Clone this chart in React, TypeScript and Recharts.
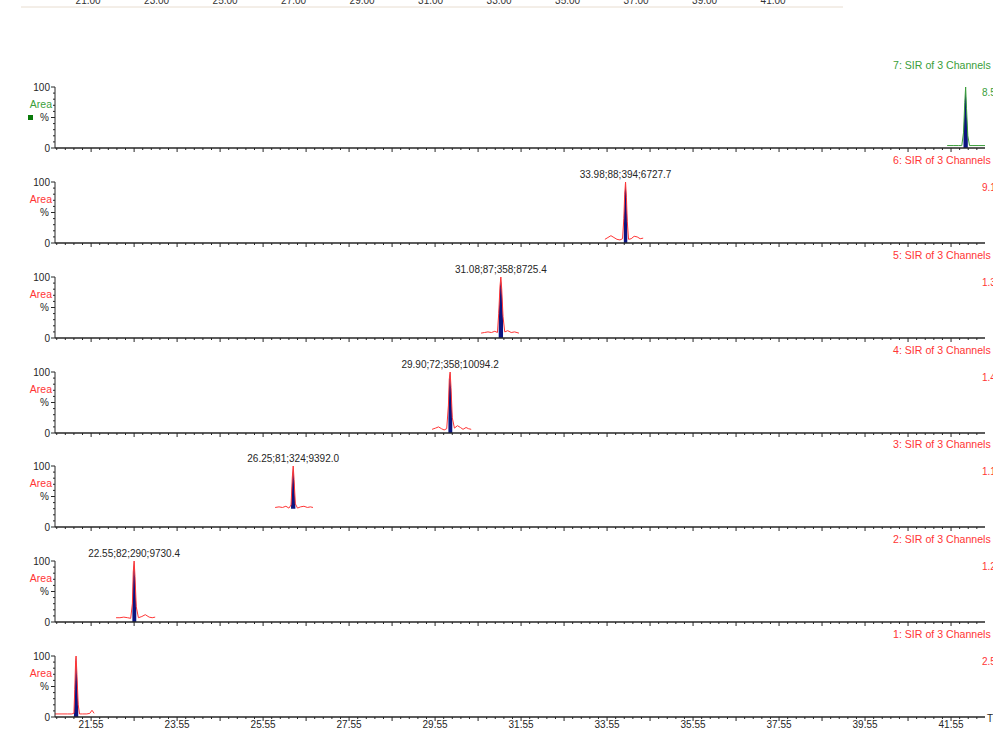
import { ComposedChart, LineChart, Line, Area, XAxis, YAxis, ReferenceDot } from "recharts";

// SIR channel traces: retention time (min) and response (% of channel max)
const ch7Time = [41.46, 41.6, 41.72, 41.8, 41.84, 41.87, 41.89, 41.91, 41.94, 41.98, 42.06, 42.2, 42.34];
const ch7Signal = [4, 4, 4, 4, 25, 75, 100, 65, 20, 4, 4, 4, 4];
const ch7Window = [41.82, 41.97];

const ch6Time = [33.5, 33.57, 33.64, 33.71, 33.78, 33.85, 33.91, 33.94, 33.96, 33.98, 34.0, 34.02, 34.05, 34.11, 34.18, 34.25, 34.32, 34.39];
const ch6Signal = [6, 9, 12, 9, 6, 5, 7, 40, 80, 100, 75, 35, 6, 7, 11, 10, 7, 8];
const ch6Window = [33.92, 34.04];

const ch5Time = [30.62, 30.7, 30.78, 30.86, 30.94, 31.0, 31.03, 31.06, 31.08, 31.1, 31.13, 31.17, 31.24, 31.32, 31.4, 31.5];
const ch5Signal = [8, 9, 10, 9, 11, 9, 40, 85, 100, 80, 35, 10, 12, 9, 10, 8];
const ch5Window = [31.02, 31.15];

const ch4Time = [29.48, 29.56, 29.63, 29.7, 29.76, 29.82, 29.86, 29.88, 29.9, 29.92, 29.95, 30.0, 30.07, 30.14, 30.2, 30.27, 30.33, 30.39];
const ch4Signal = [6, 8, 10, 7, 5, 7, 45, 88, 100, 75, 25, 8, 12, 9, 6, 9, 7, 6];
const ch4Window = [29.85, 29.97];

const ch3Time = [25.83, 25.92, 26.0, 26.08, 26.15, 26.2, 26.23, 26.25, 26.27, 26.3, 26.35, 26.42, 26.5, 26.58, 26.65, 26.71];
const ch3Signal = [32, 33, 32, 34, 31, 36, 82, 100, 78, 38, 31, 33, 34, 32, 33, 32];
const ch3Window = [26.19, 26.32];

const ch2Time = [22.13, 22.22, 22.31, 22.4, 22.47, 22.51, 22.53, 22.55, 22.57, 22.6, 22.65, 22.73, 22.81, 22.9, 22.97, 23.04];
const ch2Signal = [7, 7, 8, 7, 6, 30, 82, 100, 75, 25, 7, 9, 12, 8, 7, 8];
const ch2Window = [22.5, 22.61];

const ch1Time = [20.71, 20.85, 21.0, 21.1, 21.15, 21.17, 21.19, 21.2, 21.22, 21.25, 21.28, 21.35, 21.45, 21.52, 21.57, 21.62];
const ch1Signal = [5, 5, 5, 5, 6, 45, 92, 100, 70, 20, 5, 5, 5, 6, 11, 6];
const ch1Window = [21.15, 21.27];

// peak annotations: RT;height;area-ish;S/N
const peakTimes = [33.98, 31.08, 29.9, 26.25, 22.55];
const peakTexts = ["33.98;88;394;6727.7", "31.08;87;358;8725.4", "29.90;72;358;10094.2", "26.25;81;324;9392.0", "22.55;82;290;9730.4"];

// full-scale intensity printed at the right of each channel
const channelMax = ["8.53e3", "9.12e3", "1.35e4", "1.40e4", "1.15e4", "1.21e4", "2.57e4"];

const X_LABELS = [21.55, 23.55, 25.55, 27.55, 29.55, 31.55, 33.55, 35.55, 37.55, 39.55, 41.55];
const Y_TICKS = [0, 10, 20, 30, 40, 50, 60, 70, 80, 90, 100];
const TOP_LABELS = [21, 23, 25, 27, 29, 31, 33, 35, 37, 39, 41];

const CHANNELS = [
  { id: 7, time: ch7Time, signal: ch7Signal, window: ch7Window, base: 0, peak: -1 },
  { id: 6, time: ch6Time, signal: ch6Signal, window: ch6Window, base: 0, peak: 0 },
  { id: 5, time: ch5Time, signal: ch5Signal, window: ch5Window, base: 0, peak: 1 },
  { id: 4, time: ch4Time, signal: ch4Signal, window: ch4Window, base: 0, peak: 2 },
  { id: 3, time: ch3Time, signal: ch3Signal, window: ch3Window, base: 30, peak: 3 },
  { id: 2, time: ch2Time, signal: ch2Signal, window: ch2Window, base: 0, peak: 4 },
  { id: 1, time: ch1Time, signal: ch1Signal, window: ch1Window, base: 0, peak: -1 },
];

const W = 993;
const PLOT_LEFT = 55;
const PLOT_RIGHT = 985;
const FIRST_TOP = 87;
const STEP = 94.85;
const HEAD = 27;
const PLOT_H = 61;
const CHART_H = 120;
const X_DOMAIN: [number, number] = [20.71, 42.34];
const TOP_DOMAIN: [number, number] = [19.04, 43.04];

const RED = "#ff3535";
const GREEN = "#3a9e3a";
const NAVY = "#0c1480";
const INK = "#262626";
const FONT = "'Liberation Sans', Arial, sans-serif";

// minor ticks every 0.2 min, anchored on the labelled .55 minutes
const xTicks: number[] = [];
for (let k = -4; k <= 103; k++) xTicks.push(+(21.55 + 0.2 * k).toFixed(2));

function XTick(props: any) {
  const { x, y, payload, showLabels } = props;
  const k = Math.round((payload.value - 21.55) / 0.2);
  const major = k % 5 === 0;
  const labelled = showLabels && X_LABELS.includes(payload.value);
  return (
    <g>
      <line x1={x} x2={x} y1={y} y2={y + (major ? 4 : 2)} stroke={INK} strokeWidth={1} />
      {labelled && (
        <text x={x} y={y + 11} textAnchor="middle" fontSize={10} fill={INK}>
          {payload.value.toFixed(2)}
        </text>
      )}
    </g>
  );
}

function YTick(props: any) {
  const { x, y, payload, color, marker } = props;
  const v = payload.value;
  const major = v % 50 === 0;
  return (
    <g>
      <line x1={x - (major ? 4 : 2)} x2={x} y1={y} y2={y} stroke={INK} strokeWidth={1} />
      {(v === 100 || v === 0) && (
        <text x={x - 5} y={y} dy="0.35em" textAnchor="end" fontSize={10} fill={INK}>
          {v}
        </text>
      )}
      {v === 70 && (
        <text x={x - 3} y={y - 1} dy="0.35em" textAnchor="end" fontSize={10.5} fill={color}>
          Area
        </text>
      )}
      {v === 50 && (
        <text x={x - 6} y={y} dy="0.35em" textAnchor="end" fontSize={10} fill={INK}>
          %
        </text>
      )}
      {v === 50 && marker && <rect x={x - 27} y={y - 2.5} width={5} height={5} fill="#0a7a0a" />}
    </g>
  );
}

function ChannelPanel({ ch, index }: { ch: (typeof CHANNELS)[number]; index: number }) {
  const color = ch.id === 7 ? GREEN : RED;
  const last = index === CHANNELS.length - 1;
  const trace = ch.time.map((t, i) => ({ t, v: ch.signal[i] }));
  const band = trace
    .filter((r) => r.t >= ch.window[0] && r.t <= ch.window[1])
    .map((r) => ({ t: r.t, band: [ch.base, r.v] }));

  const head = () => (
    <g>
      <text x={893} y={HEAD - 18.5} fontSize={10.6} fill={color}>
        {`${ch.id}: SIR of 3 Channels`}
      </text>
      <text x={982} y={HEAD + 8.5} fontSize={10} fill={color}>
        {channelMax[index]}
      </text>
    </g>
  );

  const timeLabel = () =>
    last ? (
      <text x={987} y={HEAD + PLOT_H + 5} fontSize={10} fill={INK}>
        Time
      </text>
    ) : null;

  return (
    <div style={{ position: "absolute", left: 0, top: Math.round(FIRST_TOP + index * STEP) - HEAD }}>
      <ComposedChart width={W} height={CHART_H} margin={{ top: HEAD, right: W - PLOT_RIGHT, bottom: 0, left: 0 }}>
        <XAxis
          dataKey="t"
          type="number"
          domain={X_DOMAIN}
          allowDataOverflow
          ticks={xTicks}
          interval={0}
          height={CHART_H - HEAD - PLOT_H}
          tickLine={false}
          tickSize={0}
          tickMargin={0}
          axisLine={{ stroke: INK, strokeWidth: 1.3 }}
          tick={(p: any) => <XTick {...p} showLabels={last} />}
          label={timeLabel}
        />
        <YAxis
          type="number"
          domain={[0, 100]}
          ticks={Y_TICKS}
          interval={0}
          width={PLOT_LEFT}
          tickLine={false}
          tickSize={0}
          tickMargin={0}
          axisLine={{ stroke: INK, strokeWidth: 1 }}
          tick={(p: any) => <YTick {...p} color={color} marker={ch.id === 7} />}
          label={head}
        />
        <Area
          data={band}
          dataKey="band"
          type="linear"
          stroke="none"
          fill={NAVY}
          fillOpacity={1}
          isAnimationActive={false}
        />
        <Line
          data={trace}
          dataKey="v"
          type="linear"
          stroke={color}
          strokeWidth={1}
          dot={false}
          isAnimationActive={false}
        />
        {ch.peak >= 0 && (
          <ReferenceDot
            x={peakTimes[ch.peak]}
            y={100}
            r={0}
            fill="none"
            stroke="none"
            label={{ value: peakTexts[ch.peak], position: "top", offset: 4, fontSize: 10, fill: INK }}
          />
        )}
      </ComposedChart>
    </div>
  );
}

// cut-off time axis of the chromatogram above this stack
function TopStrip() {
  const data = [{ t: TOP_DOMAIN[0] }, { t: TOP_DOMAIN[1] }];
  return (
    <div style={{ position: "absolute", left: 0, top: 0, width: 850, height: 9, overflow: "hidden" }}>
      <div style={{ position: "absolute", left: 0, top: -15 }}>
        <LineChart width={850} height={40} data={data} margin={{ top: 0, right: 7, left: 21, bottom: 0 }}>
          <XAxis
            orientation="top"
            dataKey="t"
            type="number"
            domain={TOP_DOMAIN}
            ticks={TOP_LABELS}
            interval={0}
            tickLine={false}
            tickSize={0}
            tickMargin={0}
            height={22}
            axisLine={{ stroke: "#e8ddd0" }}
            tick={(p: any) => (
              <text x={p.x} y={19} textAnchor="middle" fontSize={10} fill="#333">
                {p.payload.value.toFixed(2)}
              </text>
            )}
          />
          <YAxis hide domain={[0, 100]} />
          <Line dataKey="t" stroke="none" dot={false} isAnimationActive={false} />
        </LineChart>
      </div>
    </div>
  );
}

export default function App() {
  return (
    <div
      style={{
        position: "absolute",
        left: 0,
        top: 0,
        width: W,
        height: 733,
        overflow: "hidden",
        background: "#fff",
        fontFamily: FONT,
      }}
    >
      <TopStrip />
      {CHANNELS.map((ch, i) => (
        <ChannelPanel key={ch.id} ch={ch} index={i} />
      ))}
    </div>
  );
}
